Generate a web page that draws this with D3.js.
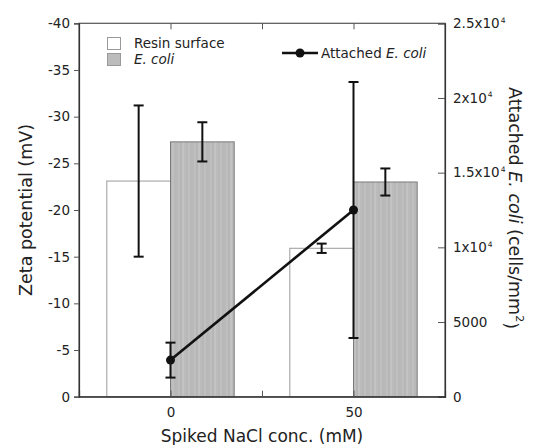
<!DOCTYPE html>
<html><head><meta charset="utf-8">
<script src="https://cdn.jsdelivr.net/npm/d3@7"></script>
<style>
html,body{margin:0;padding:0;background:#fff;}
text{font-family:"DejaVu Sans",sans-serif;fill:#222;}
</style></head>
<body>
<svg id="chart" width="547" height="445"></svg>
<script>
// ---- data ----
const concentrations = [0, 50];
const resinZeta = [-23.1, -15.9];
const resinZetaErr = [8.1, 0.5];
const ecoliZeta = [-27.3, -23.0];
const ecoliZetaErr = [2.1, 1.45];
const attached = [2450, 12500];
const attachedErr = [1170, 8570];
const leftTicks = [0, -5, -10, -15, -20, -25, -30, -35, -40];
const rightTicks = [0, 5000, 10000, 15000, 20000, 25000];
const rightTickLabels = [["0",""],["5000",""],["1x10","4"],["1.5x10","4"],["2x10","4"],["2.5x10","4"]];
const xTicks = [0, 25, 50];
const xTickLabels = ["0", "", "50"];
const barHalfWidth = 17.4;

const svg = d3.select("#chart");
const L = 79, R = 445, T = 23.3, B = 396.7;

const x = d3.scaleLinear().domain([-25, 75]).range([L, R]);
const yL = d3.scaleLinear().domain([0, -40]).range([B, T]);
const yR = d3.scaleLinear().domain([0, 25000]).range([B, T]);

// stripe pattern for E. coli bars
const defs = svg.append("defs");
const pat = defs.append("pattern").attr("id","stripes").attr("patternUnits","userSpaceOnUse")
  .attr("width", 16).attr("height", 10);
const stripeCols = ["#b9b9b9","#bfbfbf","#b5b5b5","#c3c3c3","#bbbbbb","#b7b7b7","#c0c0c0","#b8b8b8"];
stripeCols.forEach((c,i)=>pat.append("rect").attr("x", i*2).attr("y",0).attr("width",2).attr("height",10).attr("fill",c));

// bars
const g = svg.append("g");
concentrations.forEach((c,i)=>{
  g.append("rect").attr("x", x(c-barHalfWidth)).attr("y", yL(resinZeta[i]))
    .attr("width", x(c)-x(c-barHalfWidth)).attr("height", yL(0)-yL(resinZeta[i]))
    .attr("fill","#fff").attr("stroke","#9a9a9a").attr("stroke-width",1);
  g.append("rect").attr("x", x(c)).attr("y", yL(ecoliZeta[i]))
    .attr("width", x(c+barHalfWidth)-x(c)).attr("height", yL(0)-yL(ecoliZeta[i]))
    .attr("fill","url(#stripes)").attr("stroke","#7a7a7a").attr("stroke-width",1);
});

function errBar(cx, v, e, yScale){
  const y1 = yScale(v - e), y2 = yScale(v + e);
  g.append("line").attr("x1",cx).attr("x2",cx).attr("y1",y1).attr("y2",y2)
    .attr("stroke","#111").attr("stroke-width",2);
  [y1,y2].forEach(yy=>g.append("line").attr("x1",cx-5).attr("x2",cx+5).attr("y1",yy).attr("y2",yy)
    .attr("stroke","#111").attr("stroke-width",2));
}
concentrations.forEach((c,i)=>{
  errBar(x(c-barHalfWidth/2), resinZeta[i], resinZetaErr[i], yL);
  errBar(x(c+barHalfWidth/2), ecoliZeta[i], ecoliZetaErr[i], yL);
});

// frame
svg.append("rect").attr("x",L).attr("y",T).attr("width",R-L).attr("height",B-T)
  .attr("fill","none").attr("stroke","#555").attr("stroke-width",1.2);

// line series
concentrations.forEach((c,i)=> errBar(x(c), attached[i], attachedErr[i], yR));
const lineGen = d3.line().x((d,i)=>x(concentrations[i])).y(d=>yR(d));
g.append("path").datum(attached).attr("d", lineGen).attr("fill","none")
  .attr("stroke","#111").attr("stroke-width",2.6);
g.selectAll("circle.pt").data(attached).enter().append("circle")
  .attr("cx",(d,i)=>x(concentrations[i])).attr("cy",d=>yR(d)).attr("r",4.5).attr("fill","#111");

// left axis
const axL = svg.append("g").attr("transform",`translate(${L},0)`)
  .call(d3.axisLeft(yL).tickValues(leftTicks).tickSize(5).tickPadding(4).tickFormat(d=>String(d)));
axL.select(".domain").attr("stroke","#333").attr("stroke-width",1.2);
axL.selectAll(".tick line").attr("stroke","#555");
axL.selectAll(".tick text").style("font-size","13.5px").attr("fill","#222");

// right axis (inward ticks)
const axR = svg.append("g").attr("transform",`translate(${R},0)`)
  .call(d3.axisRight(yR).tickValues(rightTicks).tickSize(-7).tickPadding(15).tickFormat(""));
axR.select(".domain").attr("stroke","#333").attr("stroke-width",1.2);
axR.selectAll(".tick line").attr("stroke","#555");
axR.selectAll(".tick text").each(function(d,i){
  const t = d3.select(this).style("font-size","13.5px").attr("x",8).attr("dy","0.32em");
  t.append("tspan").text(rightTickLabels[i][0]);
  if (rightTickLabels[i][1]) t.append("tspan").attr("dy","-0.75em").attr("dx","1").style("font-size","7.5px").text(rightTickLabels[i][1]);
});

// bottom axis (inward ticks), top mirrored ticks
const axB = svg.append("g").attr("transform",`translate(0,${B})`)
  .call(d3.axisBottom(x).tickValues(xTicks).tickSize(-6).tickPadding(11).tickFormat((d,i)=>xTickLabels[i]));
axB.select(".domain").attr("stroke","#333").attr("stroke-width",1.2);
axB.selectAll(".tick line").attr("stroke","#555");
axB.selectAll(".tick text").style("font-size","13.5px");
const axT = svg.append("g").attr("transform",`translate(0,${T})`)
  .call(d3.axisTop(x).tickValues(xTicks).tickSize(-6).tickFormat(""));
axT.select(".domain").remove();
axT.selectAll(".tick line").attr("stroke","#555");

// titles
svg.append("text").attr("x", 262).attr("y", 442).attr("text-anchor","middle")
  .style("font-size","17px").text("Spiked NaCl conc. (mM)");
svg.append("text").attr("transform","translate(32,210) rotate(-90)").attr("text-anchor","middle")
  .style("font-size","17.5px").text("Zeta potential (mV)");
const rt = svg.append("text").attr("transform","translate(509,208) rotate(90)").attr("text-anchor","middle")
  .style("font-size","17.5px");
rt.append("tspan").text("Attached ");
rt.append("tspan").style("font-style","italic").text("E. coli");
rt.append("tspan").text(" (cells/mm");
rt.append("tspan").attr("dy","-0.6em").style("font-size","11px").text("2");
rt.append("tspan").attr("dy","0.6em").text(")");

// legend
const lg = svg.append("g");
lg.append("rect").attr("x",107.5).attr("y",37.5).attr("width",13).attr("height",12)
  .attr("fill","#fff").attr("stroke","#999");
lg.append("rect").attr("x",107.5).attr("y",53.5).attr("width",13).attr("height",12)
  .attr("fill","#bcbcbc").attr("stroke","#999");
lg.append("text").attr("x",134).attr("y",48).style("font-size","13.5px").text("Resin surface");
lg.append("text").attr("x",134).attr("y",64).style("font-size","13.5px").style("font-style","italic").text("E. coli");
lg.append("line").attr("x1",282).attr("x2",318).attr("y1",53).attr("y2",53).attr("stroke","#111").attr("stroke-width",2.4);
lg.append("circle").attr("cx",300).attr("cy",53).attr("r",4.5).attr("fill","#111");
const lt = lg.append("text").attr("x",321).attr("y",58).style("font-size","13.5px");
lt.append("tspan").text("Attached ");
lt.append("tspan").style("font-style","italic").text("E. coli");
</script>
</body></html>
